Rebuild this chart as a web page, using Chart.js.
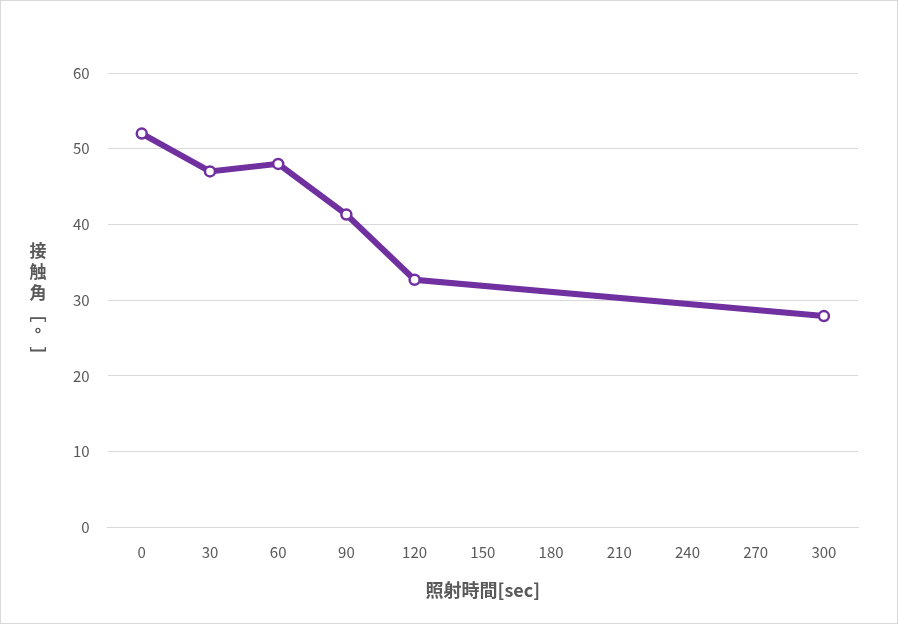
<!DOCTYPE html>
<html><head><meta charset="utf-8">
<script src="https://cdn.jsdelivr.net/npm/chart.js@4"></script>
<style>
body{margin:0;background:#fff;}
#wrap{position:absolute;left:0;top:0;width:896px;height:622px;border:1px solid #d9d9d9;}
</style></head>
<body><div id="wrap"><canvas id="c" width="896" height="622"></canvas></div>
<script>
const xLabels = ['0','30','60','90','120','150','180','210','240','270','300'];
const contactAngle = [52, 47, 48, 41.3, 32.7, null, null, null, null, null, 27.9];
const yTitleChars = ['接','触','角','﹇','°','﹈'];

const font = "'Noto Sans CJK JP', 'Noto Sans', sans-serif";

// vertical y-axis title, one upright char per row
const yTitle = {
  id: 'yTitle',
  afterDraw(chart) {
    const ctx = chart.ctx;
    ctx.save();
    ctx.fillStyle = '#595959';
    ctx.font = "bold 17px " + font;
    ctx.textAlign = 'center';
    ctx.textBaseline = 'middle';
    let y = 250;
    yTitleChars.forEach(ch => { ctx.fillText(ch, 37, y); y += 21; });
    ctx.restore();
  }
};

new Chart(document.getElementById('c'), {
  type: 'line',
  data: {
    labels: xLabels,
    datasets: [{
      data: contactAngle,
      spanGaps: true,
      borderColor: '#7030a0',
      borderWidth: 6,
      pointRadius: 5,
      pointBorderWidth: 2.5,
      pointBackgroundColor: '#fff',
      pointBorderColor: '#7030a0',
      tension: 0
    }]
  },
  options: {
    responsive: false,
    animation: false,
    layout: { padding: { left: 54, right: 39, top: 72, bottom: 18 } },
    plugins: { legend: { display: false }, tooltip: { enabled: false } },
    scales: {
      x: {
        offset: true,
        grid: { display: false },
        border: { color: '#d9d9d9' },
        ticks: { color: '#595959', font: { size: 15, family: font }, padding: 8 },
        title: { display: true, text: '照射時間[sec]', color: '#595959', font: { size: 18, weight: 'bold', family: font }, padding: { top: 10 } }
      },
      y: {
        min: 0, max: 60,
        ticks: { stepSize: 10, color: '#595959', font: { size: 15, family: font }, padding: 18 },
        grid: { color: '#d9d9d9', drawTicks: false },
        border: { display: false }
      }
    }
  },
  plugins: [yTitle]
});
</script></body></html>
